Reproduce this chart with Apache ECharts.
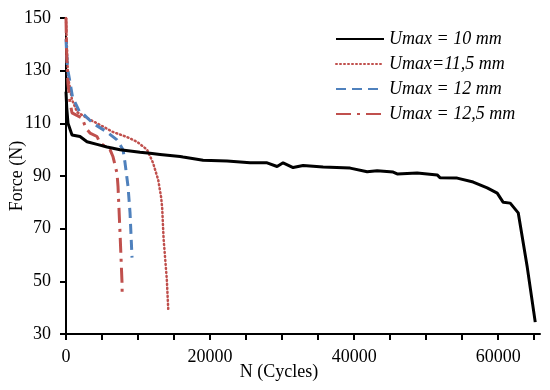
<!DOCTYPE html>
<html>
<head>
<meta charset="utf-8">
<script src="https://cdn.jsdelivr.net/npm/echarts@6/dist/echarts.min.js"></script>
<style>html,body{margin:0;padding:0;background:#fff;}#c{width:550px;height:390px;}</style>
</head>
<body>
<div id="c"></div>
<script>
const seriesNames = ['Umax = 10 mm', 'Umax=11,5 mm', 'Umax = 12 mm', 'Umax = 12,5 mm'];
const xTickStep = 5000;
const xLabelStep = 20000;

const umax10 = [[0,122],[100,116],[278,110],[833,105.6],[1944,105],[2917,103],[4306,102],[5694,101],[7500,100],[10278,99],[11667,98.6],[13056,98.2],[15833,97.4],[16250,97.2],[19028,96],[22361,95.7],[25556,95],[27917,95],[29306,93.6],[30139,95],[31528,93.2],[32917,94],[35694,93.4],[39444,93],[41806,91.6],[43194,92],[45417,91.5],[45972,90.8],[48750,91.1],[51528,90.4],[51944,89.3],[54306,89.2],[56528,87.7],[58472,85.5],[59861,83.5],[60694,80],[61667,79.7],[62778,76],[64028,55.4],[65139,34.5]];
const umax115 = [[0,150],[139,138],[278,127.6],[833,119],[1528,114.3],[2917,112],[4722,109.4],[6528,106.7],[8472,104.8],[9861,103],[11250,100],[12083,95],[12800,88.5],[13200,82],[13350,78],[13550,66],[14000,50.5],[14200,39]];
const umax12 = [[0,142],[200,131],[500,126.5],[900,120],[1900,114.3],[2400,113.5],[3750,110],[5694,106.7],[7083,103.7],[7917,100],[8194,95],[8611,86],[8889,76],[9167,59]];
const umax125 = [[0,150],[100,135],[278,125],[556,118],[833,114],[2222,112],[2800,108],[3333,106.3],[4306,105],[4722,102.5],[6111,100],[6528,97.3],[7083,91],[7222,86],[7500,68.4],[7778,49.4],[7800,44.6]];

const FONT = '"Liberation Serif", "Times New Roman", serif';
const chart = echarts.init(document.getElementById('c'), null, {renderer: 'canvas'});
chart.setOption({
  backgroundColor: '#fff',
  animation: false,
  grid: {left: 66, right: 10, top: 18, bottom: 56, containLabel: false, outerBoundsMode: 'none'},
  legend: {
    orient: 'vertical', left: 335, top: 30, padding: 0,
    itemWidth: 48, itemHeight: 14, itemGap: 7,
    itemStyle: {opacity: 0},
    textStyle: {fontFamily: FONT, fontStyle: 'italic', fontSize: 18, lineHeight: 17, color: '#000'},
    data: seriesNames
  },
  xAxis: {
    type: 'value', min: 0, max: 65800, interval: xTickStep,
    name: 'N (Cycles)', nameLocation: 'middle', nameGap: 29, nameMoveOverlap: false,
    nameTextStyle: {fontFamily: FONT, fontSize: 18, color: '#000', padding: [0, 48, 0, 0]},
    axisLine: {show: true, lineStyle: {color: '#000', width: 2}},
    axisTick: {show: true, inside: false, length: 6, lineStyle: {color: '#000', width: 2}},
    axisLabel: {fontFamily: FONT, fontSize: 18, color: '#000', margin: 14,
      showMaxLabel: false,
      formatter: function (v) { return (v % xLabelStep === 0) ? String(v) : ''; }},
    splitLine: {show: false}
  },
  yAxis: {
    type: 'value', min: 30, max: 150, interval: 20,
    name: 'Force (N)', nameLocation: 'middle', nameGap: 40, nameMoveOverlap: false,
    nameTextStyle: {fontFamily: FONT, fontSize: 18, color: '#000'},
    axisLine: {show: true, lineStyle: {color: '#000', width: 2}},
    axisTick: {show: true, inside: false, length: 6, lineStyle: {color: '#000', width: 2}},
    axisLabel: {fontFamily: FONT, fontSize: 18, color: '#000', margin: 15,
      formatter: function (v) { return String(v); }},
    splitLine: {show: false}
  },
  series: [
    {name: seriesNames[0], type: 'line', data: umax10, symbol: 'none', z: 5,
     lineStyle: {color: '#000', width: 3}, itemStyle: {color: '#000'}},
    {name: seriesNames[1], type: 'line', data: umax115, symbol: 'none',
     lineStyle: {color: '#C0504D', width: 2.5, type: [1, 3], cap: 'round'}, itemStyle: {color: '#C0504D'}},
    {name: seriesNames[2], type: 'line', data: umax12, symbol: 'none',
     lineStyle: {color: '#4F81BD', width: 3, type: [10, 6]}, itemStyle: {color: '#4F81BD'}},
    {name: seriesNames[3], type: 'line', data: umax125, symbol: 'none',
     lineStyle: {color: '#C0504D', width: 3, type: [15, 6, 3, 6]}, itemStyle: {color: '#C0504D'}}
  ]
});
</script>
</body>
</html>
